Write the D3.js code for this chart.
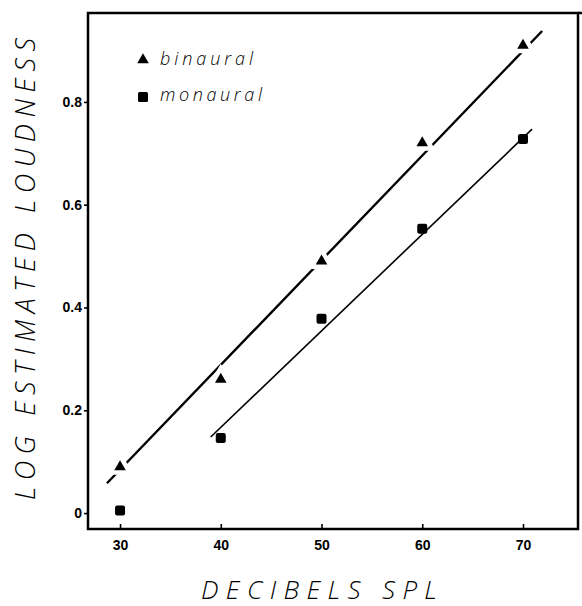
<!DOCTYPE html>
<html>
<head>
<meta charset="utf-8">
<script src="https://cdn.jsdelivr.net/npm/d3@7"></script>
<style>
  body { margin: 0; background: #fff; }
  svg { display: block; }
</style>
</head>
<body>
<svg id="chart" width="582" height="606"></svg>
<script>
// sound levels (dB SPL) and log estimated loudness
const levels = [30, 40, 50, 60, 70];
const binaural = [0.09, 0.26, 0.49, 0.72, 0.91];
const monaural = [0.005, 0.146, 0.378, 0.553, 0.728];
// fitted lines, end points [dB, log loudness]
const binauralFit = [[28.7, 0.058], [71.9, 0.938]];
const monauralFit = [[39.0, 0.148], [70.9, 0.747]];
const xTicks = [30, 40, 50, 60, 70];
const yTicks = [0, 0.2, 0.4, 0.6, 0.8];

const svg = d3.select("#chart");
const mLeft = 88, mRight = 578, mTop = 13, mBottom = 529;
const thinFont = "'Open Sans', 'Liberation Sans', Arial, sans-serif";

const x = d3.scaleLinear().domain([26.82, 75.46]).range([mLeft, mRight]);
const y = d3.scaleLinear().domain([-0.031, 0.973]).range([mBottom, mTop]);

// axes
const xAxis = d3.axisBottom(x).tickValues(xTicks).tickSize(-5).tickSizeOuter(0).tickPadding(11);
const yAxis = d3.axisLeft(y).tickValues(yTicks).tickSize(4).tickSizeOuter(0).tickPadding(2)
  .tickFormat(d => d === 0 ? "0" : d3.format(".1f")(d));

const gx = svg.append("g").attr("transform", `translate(0,${mBottom})`).call(xAxis);
const gy = svg.append("g").attr("transform", `translate(${mLeft},0)`).call(yAxis);
[gx, gy].forEach(g => {
  g.select(".domain").remove();
  g.selectAll(".tick line").attr("stroke", "#000").attr("stroke-width", 1.6);
  g.selectAll(".tick text")
    .attr("fill", "#000")
    .style("font-family", "'Liberation Sans', Arial, sans-serif")
    .style("font-size", "14px")
    .style("font-weight", "bold");
});

// frame
svg.append("rect")
  .attr("x", mLeft).attr("y", mTop)
  .attr("width", mRight - mLeft).attr("height", mBottom - mTop)
  .attr("fill", "none").attr("stroke", "#000").attr("stroke-width", 2.5);
svg.append("line")
  .attr("x1", mRight).attr("x2", 582).attr("y1", mTop).attr("y2", mTop)
  .attr("stroke", "#000").attr("stroke-width", 2.5);

// fitted lines
const line = d3.line().x(d => x(d[0])).y(d => y(d[1]));
svg.append("path").datum(binauralFit).attr("d", line)
  .attr("fill", "none").attr("stroke", "#000").attr("stroke-width", 2.4);
svg.append("path").datum(monauralFit).attr("d", line)
  .attr("fill", "none").attr("stroke", "#000").attr("stroke-width", 1.6);

// binaural triangles, with white halo that breaks the line
const tri = d3.symbol().type(d3.symbolTriangle).size(58);
const binPts = levels.map((l, i) => [l, binaural[i]]);
svg.append("g").selectAll("path.halo").data(binPts).enter().append("path")
  .attr("class", "halo")
  .attr("d", tri)
  .attr("transform", d => `translate(${x(d[0])},${y(d[1])})`)
  .attr("fill", "#fff").attr("stroke", "#fff").attr("stroke-width", 9);
svg.append("g").selectAll("path.tri").data(binPts).enter().append("path")
  .attr("class", "tri")
  .attr("d", tri)
  .attr("transform", d => `translate(${x(d[0])},${y(d[1])})`)
  .attr("fill", "#000");

// monaural squares
const monPts = levels.map((l, i) => [l, monaural[i]]);
svg.append("g").selectAll("rect").data(monPts).enter().append("rect")
  .attr("x", d => x(d[0]) - 5).attr("y", d => y(d[1]) - 5)
  .attr("width", 10).attr("height", 10).attr("rx", 2)
  .attr("fill", "#000");

// legend
const lg = svg.append("g").style("font-family", thinFont)
  .style("font-style", "italic").style("font-size", "18px").style("font-weight", 300);
lg.append("path").attr("d", tri).attr("transform", "translate(143,60)").attr("fill", "#000");
lg.append("text").attr("x", 160).attr("y", 65).attr("textLength", 93).attr("lengthAdjust", "spacing").text("binaural");
lg.append("rect").attr("x", 138).attr("y", 92).attr("width", 10).attr("height", 10).attr("rx", 1.5).attr("fill", "#000");
lg.append("text").attr("x", 160).attr("y", 101).attr("textLength", 102).attr("lengthAdjust", "spacing").text("monaural");

// axis titles
svg.append("text")
  .attr("x", 201).attr("y", 599)
  .attr("textLength", 236).attr("lengthAdjust", "spacing")
  .style("font-family", thinFont).style("font-weight", 300)
  .style("font-style", "italic").style("font-size", "26px")
  .text("DECIBELS  SPL");
svg.append("text")
  .attr("transform", "translate(35,500) rotate(-90)")
  .attr("textLength", 462).attr("lengthAdjust", "spacing")
  .style("font-family", thinFont).style("font-weight", 300)
  .style("font-style", "italic").style("font-size", "27px")
  .text("LOG  ESTIMATED  LOUDNESS");
</script>
</body>
</html>
